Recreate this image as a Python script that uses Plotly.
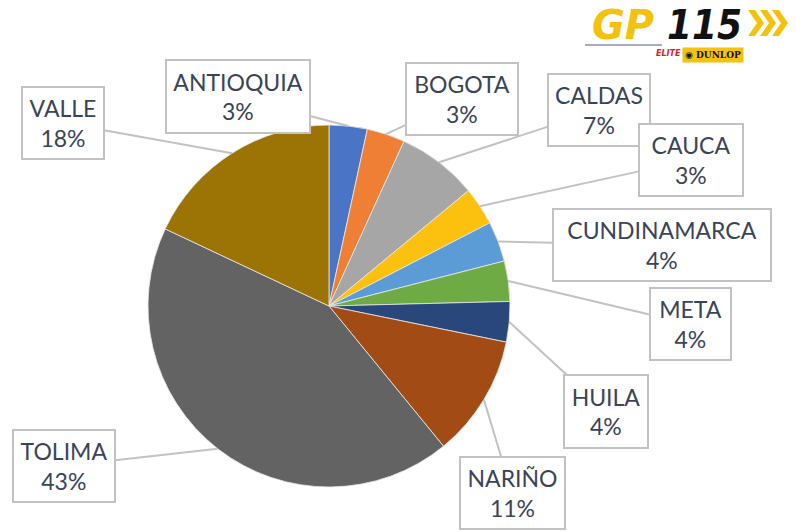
import math
import plotly.graph_objects as go

# ---- data ----
departments = ["ANTIOQUIA", "BOGOTA", "CALDAS", "CAUCA", "CUNDINAMARCA",
               "META", "HUILA", "NARIÑO", "TOLIMA", "VALLE"]
shares = [3.4, 3.4, 7.2, 3.4, 3.6, 3.6, 3.6, 10.9, 42.9, 18.0]
slice_colors = ["#4A74C6", "#EF7F35", "#A6A6A6", "#FCC10F", "#5C9CD6",
                "#6EAB45", "#2A477C", "#A24B14", "#636363", "#9C7406"]

# ---- layout constants (pixels) ----
W, H = 796, 531
CX, CY, R = 329, 306, 181           # pie centre and radius (px from top-left)
box_centers = {                       # label box centres (px)
    "ANTIOQUIA": (238, 97), "BOGOTA": (462, 99), "CALDAS": (599, 110),
    "CAUCA": (691, 160), "CUNDINAMARCA": (662, 245), "META": (690, 324),
    "HUILA": (606, 411), "NARIÑO": (512, 493), "TOLIMA": (64, 466),
    "VALLE": (63, 123),
}
box_sizes = {
    "ANTIOQUIA": (146, 75), "BOGOTA": (114, 74), "CALDAS": (104, 74),
    "CAUCA": (106, 74), "CUNDINAMARCA": (220, 74), "META": (83, 74),
    "HUILA": (86, 75), "NARIÑO": (107, 74), "TOLIMA": (104, 74),
    "VALLE": (84, 74),
}


def px2paper(x, y):
    return x / W, 1 - y / H


fig = go.Figure(go.Pie(
    labels=departments, values=shares, sort=False, direction="clockwise",
    rotation=0, textinfo="none", hoverinfo="label+percent",
    marker=dict(colors=slice_colors, line=dict(color="#E8E8E8", width=0.8)),
    domain=dict(x=[(CX - R) / W, (CX + R) / W],
                y=[(H - CY - R) / H, (H - CY + R) / H]),
    showlegend=False,
))

total = sum(shares)
cum = 0.0
annotations = []
for name, v in zip(departments, shares):
    mid = (cum + v / 2) / total * 2 * math.pi
    cum += v
    px = CX + R * math.sin(mid)
    py = CY - R * math.cos(mid)
    bx, by = box_centers[name]
    bw, bh = box_sizes[name]
    pct = round(v / total * 100)
    xp, yp = px2paper(px, py)
    annotations.append(dict(
        x=xp, y=yp, xref="paper", yref="paper",
        ax=bx - px, ay=by - py, axref="pixel", ayref="pixel",
        text=f"{name}<br>{pct}%", showarrow=True, arrowhead=0,
        arrowwidth=2, arrowcolor="#C2C2C2", standoff=0,
        bordercolor="#C2C2C2", borderwidth=2, borderpad=0,
        bgcolor="white", width=bw - 4, height=bh - 4,
        font=dict(family="Lato", size=23, color="#3A4457"),
        align="center", valign="middle",
    ))

# ---- logo (top right) ----
LOGO_YELLOW = "#F4C20D"
gx, gy = px2paper(590, 25)
nx, ny = px2paper(665, 25)
ex, ey = px2paper(683, 47)
dx, dy = px2paper(744, 47)
annotations += [
    dict(x=gx, y=gy, xref="paper", yref="paper", showarrow=False,
         xanchor="left", yanchor="middle", text="GP",
         font=dict(family="DejaVu Sans", size=40, color=LOGO_YELLOW,
                   weight="bold", style="italic")),
    dict(x=nx, y=ny, xref="paper", yref="paper", showarrow=False,
         xanchor="left", yanchor="middle", text="115",
         font=dict(family="DejaVu Sans Condensed", size=40,
                   color="#111111", weight="bold", style="italic")),
    dict(x=ex, y=ey, xref="paper", yref="paper", showarrow=False,
         text="ELITE", font=dict(family="DejaVu Sans", size=8,
                                 color="#D8202A", weight="bold",
                                 style="italic")),
    dict(x=dx, y=dy, xref="paper", yref="paper", showarrow=False,
         text="◉ DUNLOP", bgcolor=LOGO_YELLOW, borderpad=2,
         font=dict(family="DejaVu Serif", size=9, color="#111111",
                   weight="bold")),
]

shapes = []
l0 = px2paper(585, 45)
l1 = px2paper(662, 45)
shapes.append(dict(type="line", xref="paper", yref="paper",
                   x0=l0[0], x1=l1[0], y0=l0[1], y1=l1[1],
                   line=dict(color="#8A8FB5", width=1.5)))
# three chevrons
for i in range(3):
    x0 = 748 + i * 12
    pts = [(x0, 10), (x0 + 7, 10), (x0 + 16, 23), (x0 + 7, 36), (x0, 36),
           (x0 + 9, 23)]
    path = "M " + " L ".join(f"{px2paper(a, b)[0]:.5f},{px2paper(a, b)[1]:.5f}"
                             for a, b in pts) + " Z"
    shapes.append(dict(type="path", xref="paper", yref="paper", path=path,
                       fillcolor=LOGO_YELLOW, line=dict(width=0)))

fig.update_layout(
    width=W, height=H, margin=dict(l=0, r=0, t=0, b=0),
    paper_bgcolor="white", plot_bgcolor="white",
    annotations=annotations, shapes=shapes,
)

fig.write_html("out.html", config={"displayModeBar": False},
               post_script="document.body.style.margin='0';"
                           "document.body.style.padding='0';")
